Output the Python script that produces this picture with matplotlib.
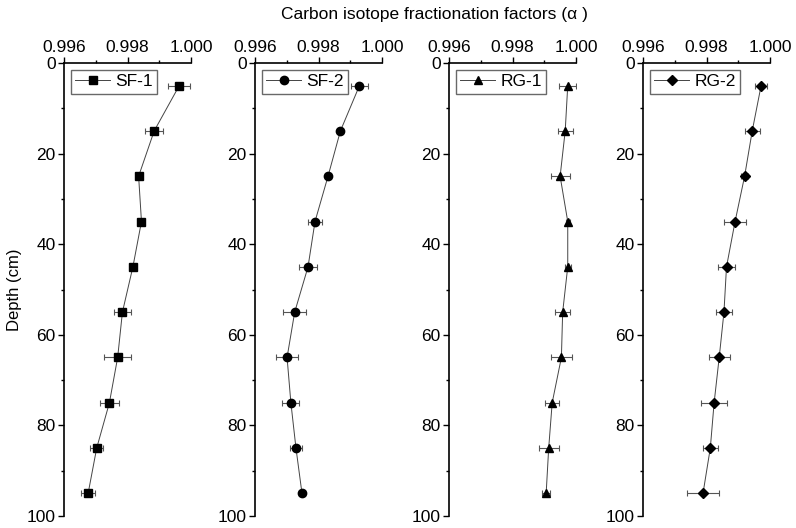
import numpy as np
import matplotlib.pyplot as plt
from matplotlib.ticker import MultipleLocator

plt.rcParams['font.family'] = ['Liberation Sans', 'DejaVu Sans']

depth = [5, 15, 25, 35, 45, 55, 65, 75, 85, 95]

sf1 = [0.99963, 0.99884, 0.99835, 0.99844, 0.99817, 0.99784, 0.99769, 0.99743, 0.99703, 0.99676]
sf1_err = [0.00035, 0.00028, 0.00008, 0.00005, 0.00010, 0.00026, 0.00042, 0.00029, 0.00020, 0.00023]

sf2 = [0.99929, 0.99869, 0.99830, 0.99789, 0.99767, 0.99725, 0.99701, 0.99713, 0.99729, 0.99748]
sf2_err = [0.00027, 0.00005, 0.00004, 0.00021, 0.00027, 0.00037, 0.00036, 0.00027, 0.00018, 0.00008]

rg1 = [0.99974, 0.99966, 0.99950, 0.99974, 0.99974, 0.99958, 0.99954, 0.99925, 0.99914, 0.99906]
rg1_err = [0.00026, 0.00023, 0.00030, 0.00006, 0.00010, 0.00023, 0.00034, 0.00022, 0.00031, 0.00013]

rg2 = [0.99972, 0.99944, 0.99920, 0.99890, 0.99863, 0.99855, 0.99840, 0.99824, 0.99812, 0.99789]
rg2_err = [0.00018, 0.00023, 0.00010, 0.00034, 0.00027, 0.00024, 0.00033, 0.00041, 0.00024, 0.00049]

series = [
    ('SF-1', sf1, sf1_err, 's', 5.5),
    ('SF-2', sf2, sf2_err, 'o', 6),
    ('RG-1', rg1, rg1_err, '^', 6),
    ('RG-2', rg2, rg2_err, 'D', 5),
]

W, H = 796, 528
fig = plt.figure(figsize=(W / 100, H / 100), dpi=100)

lefts = [64, 255, 449, 643]
ax_w = 127
top, bottom = 63, 516

for i, (name, vals, err, mk, ms) in enumerate(series):
    ax = fig.add_axes([lefts[i] / W, 1 - bottom / H, ax_w / W, (bottom - top) / H])
    ax.errorbar(vals, depth, xerr=err, fmt='none', ecolor='#555555',
                elinewidth=0.8, capsize=2.5, capthick=0.8, zorder=2)
    ax.plot(vals, depth, color='#444444', lw=0.7, marker=mk, ms=ms,
            mfc='black', mec='black', label=name, zorder=3)
    ax.set_xlim(0.996, 1.000)
    ax.set_ylim(100, 0)
    ax.xaxis.tick_top()
    ax.xaxis.set_label_position('top')
    ax.set_xticks([0.996, 0.998, 1.000])
    ax.set_xticklabels(['0.996', '0.998', '1.000'])
    ax.xaxis.set_minor_locator(MultipleLocator(0.001))
    ax.set_yticks([0, 20, 40, 60, 80, 100])
    ax.yaxis.set_minor_locator(MultipleLocator(10))
    ax.tick_params(which='major', direction='out', length=4, width=1, labelsize=12.5, pad=2)
    ax.tick_params(which='minor', direction='out', length=2.5, width=1)
    for s in ['right', 'bottom']:
        ax.spines[s].set_visible(False)
    for s in ['left', 'top']:
        ax.spines[s].set_linewidth(1.2)
    ax.legend(loc='upper left', fontsize=12.5, frameon=True, fancybox=False,
              edgecolor='#444444', handlelength=2.0, handletextpad=0.3,
              borderpad=0.25, borderaxespad=0.4)
    if i == 0:
        ax.set_ylabel('Depth (cm)', fontsize=12, labelpad=3)

fig.text(434 / W, 1 - 15 / H, 'Carbon isotope fractionation factors (\u03b1 )',
         ha='center', va='center', fontsize=12.5)

fig.savefig('out.png', dpi=100)
